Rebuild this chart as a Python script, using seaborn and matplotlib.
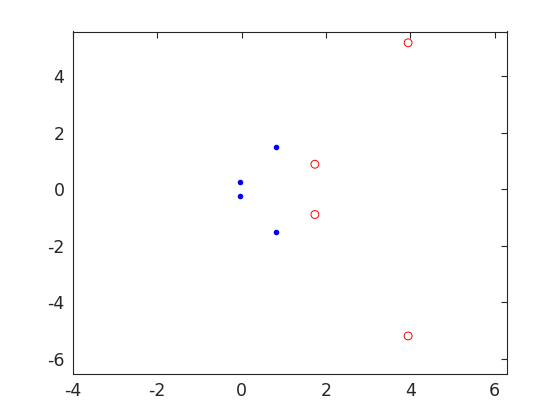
import matplotlib
matplotlib.use("Agg")
import matplotlib.pyplot as plt
import seaborn as sns
import pandas as pd

# pontos azuis (preenchidos) e vermelhos (circulos abertos)
blue_x = [0.81, 0.81, -0.03, -0.03]
blue_y = [1.50, -1.50, 0.25, -0.25]
red_x = [1.74, 1.74, 3.95, 3.95]
red_y = [0.89, -0.89, 5.19, -5.19]

sns.set_style("white")
plt.rcParams["font.family"] = ["DejaVu Sans"]
plt.rcParams["axes.unicode_minus"] = False

fig = plt.figure(figsize=(5.6, 4.2), dpi=100)
ax = fig.add_axes([0.13, 0.11, 0.775, 0.815])

df_blue = pd.DataFrame({"x": blue_x, "y": blue_y})
df_red = pd.DataFrame({"x": red_x, "y": red_y})

sns.scatterplot(data=df_blue, x="x", y="y", ax=ax, color="blue", s=16,
                edgecolor="blue", linewidth=0)
sns.scatterplot(data=df_red, x="x", y="y", ax=ax, marker="o", s=32,
                facecolor="none", edgecolor="red", linewidth=0.7)

ax.set_xlim(-4, 6.29)
ax.set_ylim(-6.53, 5.59)
ax.set_xticks([-4, -2, 0, 2, 4, 6])
ax.set_yticks([-6, -4, -2, 0, 2, 4])
ax.set_xlabel("")
ax.set_ylabel("")
ax.tick_params(direction="in", length=4, width=0.8, top=True, right=True,
               labelsize=12.5, colors="#262626", pad=6)
for sp in ax.spines.values():
    sp.set_visible(True)
    sp.set_color("#262626")
    sp.set_linewidth(0.8)

fig.savefig("out.png", dpi=100)
